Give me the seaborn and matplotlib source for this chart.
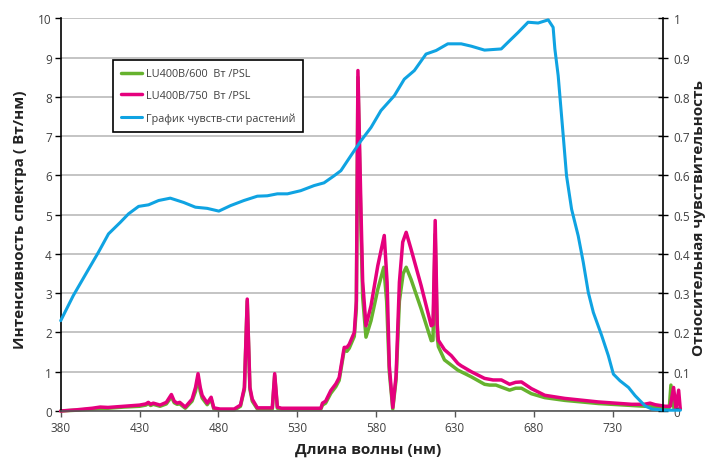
import matplotlib
matplotlib.use("Agg")
import matplotlib.pyplot as plt
import seaborn as sns

# spectra (nm, W/nm)
green_nm = [380, 390, 400, 405, 410, 420, 430, 434, 435.6, 437, 438.7, 443, 447, 450.2, 452,
            453.8, 455.5, 459, 463.3, 465.5, 467.1, 468.5, 469.7, 472.9, 475.4, 477.1, 481, 490,
            492, 494, 496.5, 498.3, 500, 501.5, 504.7, 514.2, 515.7, 517.4, 520, 545, 546, 548,
            551.3, 554.5, 556.6, 559.8, 561.5, 563, 566.2, 567.5, 568.5, 570.5, 571.5, 573.6,
            576.8, 581.1, 584.9, 586.7, 588.4, 590.6, 592.7, 594.8, 597.2, 599.1, 602.2, 608.6,
            615, 616.1, 617.5, 618.8, 619.5, 623.4, 631.9, 640.4, 648.8, 652, 656, 660, 664.7,
            668.5, 672.2, 678.5, 687, 699.7, 721, 742.2, 763.4, 766, 767, 769, 773]
green_val = [0.0, 0.02, 0.05, 0.07, 0.07, 0.1, 0.12, 0.15, 0.19, 0.14, 0.17, 0.12, 0.18, 0.36, 0.21,
             0.17, 0.18, 0.07, 0.25, 0.5, 0.85, 0.5, 0.33, 0.16, 0.3, 0.05, 0.03, 0.03,
             0.07, 0.12, 0.55, 2.8, 0.55, 0.25, 0.05, 0.05, 0.9, 0.07, 0.05, 0.05, 0.15, 0.2,
             0.45, 0.62, 0.78, 1.55, 1.52, 1.6, 1.9, 2.6, 8.5, 4.5, 2.9, 1.88,
             2.3, 3.1, 3.66, 2.8, 1.0, 0.05, 0.8, 2.8, 3.5, 3.66, 3.35, 2.6,
             1.79, 1.8, 4.5, 1.9, 1.64, 1.30, 1.04, 0.87, 0.68, 0.66, 0.66, 0.6, 0.53,
             0.58, 0.58, 0.44, 0.34, 0.27, 0.19, 0.14, 0.09, 0.09, 0.66, 0.05, 0.05]

pink_nm = [380, 390, 400, 405, 410, 420, 430, 434, 435.6, 437, 438.7, 443, 447, 450.2, 452,
           453.8, 455.5, 459, 463.3, 465.5, 467.1, 468.5, 469.7, 472.9, 475.4, 477.1, 481, 490,
           492, 494, 496.5, 498.3, 500, 501.5, 504.7, 514.2, 515.7, 517.4, 520, 545, 546, 548,
           551.3, 554.5, 556.6, 559.8, 561.5, 563, 566.2, 567.5, 568.5, 570.5, 571.5, 573.6,
           576.8, 581.1, 585.2, 587, 588.4, 590.6, 592.7, 594.8, 596.9, 599.1, 602.2, 608.6,
           615, 616.1, 617.5, 618.8, 619.5, 623.4, 627.7, 631.9, 634, 640.4, 648.8, 654.2, 659.5,
           664.7, 668.5, 672.2, 678.5, 687, 699.7, 721, 742.2, 750, 753.8, 757, 763.4, 766.6,
           768.7, 770.2, 771.9, 772.9]
pink_val = [0.0, 0.03, 0.07, 0.1, 0.09, 0.12, 0.15, 0.18, 0.22, 0.17, 0.2, 0.15, 0.22, 0.42, 0.25,
            0.2, 0.22, 0.1, 0.3, 0.6, 0.95, 0.6, 0.4, 0.2, 0.35, 0.08, 0.05, 0.05,
            0.1, 0.15, 0.6, 2.85, 0.6, 0.3, 0.08, 0.08, 0.95, 0.1, 0.07, 0.07, 0.2, 0.25,
            0.52, 0.69, 0.85, 1.62, 1.62, 1.7, 2.0, 2.8, 8.67, 5.0, 3.3, 2.17,
            2.68, 3.70, 4.47, 3.28, 1.15, 0.09, 0.9, 3.28, 4.30, 4.55, 4.12, 3.19,
            2.17, 2.2, 4.85, 2.2, 1.8, 1.56, 1.41, 1.21, 1.15, 1.0, 0.83, 0.79, 0.79,
            0.68, 0.73, 0.74, 0.57, 0.40, 0.32, 0.23, 0.17, 0.17, 0.2, 0.16, 0.12, 0.12,
            0.6, 0.06, 0.53, 0.06]

# plant sensitivity (relative, right axis)
blue_nm = [380, 388, 396.5, 403.9, 410.3, 417.7, 423, 429.4, 435.7, 442.1, 449.5, 458, 465.4,
           472.9, 480.3, 487.7, 496.2, 504.7, 511, 517.4, 523.8, 532.2, 540.7, 547, 553.4, 557.7,
           564, 570.4, 576.8, 583.1, 591.6, 597.9, 604.3, 611.7, 618.1, 625.5, 634, 640.4, 648.8,
           659.4, 663.7, 670.1, 676.4, 682.8, 689.2, 692.3, 693.4, 695.5, 698.7, 700.8, 704,
           708.2, 711.4, 714.6, 717.8, 723.1, 727.3, 730.5, 734.7, 740.1, 744.3, 750.6, 754.9,
           763, 773]
blue_val = [0.230, 0.294, 0.353, 0.404, 0.451, 0.480, 0.502, 0.521, 0.525, 0.536, 0.542, 0.531,
            0.519, 0.516, 0.509, 0.523, 0.536, 0.547, 0.548, 0.553, 0.553, 0.561, 0.574, 0.581,
            0.599, 0.612, 0.650, 0.688, 0.722, 0.765, 0.803, 0.845, 0.867, 0.909, 0.918, 0.935,
            0.935, 0.929, 0.919, 0.922, 0.939, 0.964, 0.990, 0.988, 0.996, 0.977, 0.922, 0.854,
            0.701, 0.599, 0.514, 0.446, 0.379, 0.302, 0.251, 0.192, 0.141, 0.094, 0.077, 0.060,
            0.039, 0.013, 0.005, 0.002, 0.002]

labels = ["LU400B/600  Вт /PSL", "LU400B/750  Вт /PSL", "График чувств-сти растений"]
x_ticks = [380, 430, 480, 530, 580, 630, 680, 730]
right_ticks = [i / 10 for i in range(11)]
right_tick_labels = ["0", "0.1", "0.2", "0.3", "0.4", "0.5", "0.6", "0.7", "0.8", "0.9", "1"]

GREEN = "#66B22E"
PINK = "#E5007D"
BLUE = "#0FA3E2"

sns.set_theme(style="white")
plt.rcParams['font.family'] = ['Open Sans', 'DejaVu Sans']

fig = plt.figure(figsize=(7.21, 4.64), dpi=100)
ax = fig.add_axes([0.0842, 0.1121, 0.8354, 0.8463])
ax2 = ax.twinx()

sns.lineplot(x=green_nm, y=green_val, ax=ax, color=GREEN, linewidth=2.5,
             estimator=None, sort=False, clip_on=False)
sns.lineplot(x=pink_nm, y=pink_val, ax=ax, color=PINK, linewidth=2.5,
             estimator=None, sort=False, clip_on=False)
sns.lineplot(x=blue_nm, y=blue_val, ax=ax2, color=BLUE, linewidth=2.2,
             estimator=None, sort=False, clip_on=False)

ax.set_xlim(380, 762)
ax.set_ylim(0, 10)
ax2.set_ylim(0, 1)
ax.set_xticks(x_ticks)
ax.set_yticks(range(0, 11))
ax2.set_yticks(right_ticks)
ax2.set_yticklabels(right_tick_labels)

ax.yaxis.grid(True, color="#c4c4c4", linewidth=1.4)
ax.xaxis.grid(False)
ax.set_axisbelow(True)

for s in ["top", "right"]:
    ax.spines[s].set_visible(False)
for s in ["top", "left", "bottom"]:
    ax2.spines[s].set_visible(False)
ax.spines["left"].set_color("black")
ax.spines["left"].set_linewidth(1.2)
ax.spines["bottom"].set_color("#555555")
ax.spines["bottom"].set_linewidth(1.2)
ax2.spines["right"].set_color("black")
ax2.spines["right"].set_linewidth(1.2)

ax.tick_params(axis="y", direction="out", length=4, width=1, color="black",
               labelsize=8.5, labelcolor="#404040", pad=2.4, left=True)
ax.tick_params(axis="x", direction="out", length=4, width=1, color="#555555",
               labelsize=8.5, labelcolor="#404040", pad=3, bottom=True)
ax2.tick_params(axis="y", direction="inout", length=7, width=1, color="black",
                labelsize=8.5, labelcolor="#404040", pad=4, right=True)

ax.set_xlabel("Длина волны (нм)", fontsize=11, fontweight="bold", color="#222222")
ax.set_ylabel("Интенсивность спектра ( Вт/нм)", fontsize=11, fontweight="bold", color="#222222")
ax2.set_ylabel("Относительная чувствительность", fontsize=11, fontweight="bold", color="#222222")
ax.xaxis.set_label_coords(0.51, -0.08)
ax.yaxis.set_label_coords(-0.056, 0.49)
ax2.yaxis.set_label_coords(1.048, 0.494)

handles = [ax.lines[0], ax.lines[1], ax2.lines[0]]
leg = ax2.legend(handles, labels, loc="upper left", bbox_to_anchor=(0.0863, 0.893),
                 borderaxespad=0, fontsize=7.8, frameon=True, fancybox=False,
                 framealpha=1, edgecolor="black", handlelength=2.0, handletextpad=0.3,
                 labelspacing=1.0, borderpad=0.75)
leg.get_frame().set_linewidth(1.2)
for t in leg.get_texts():
    t.set_color("#404040")

fig.savefig("out.png", dpi=100)
